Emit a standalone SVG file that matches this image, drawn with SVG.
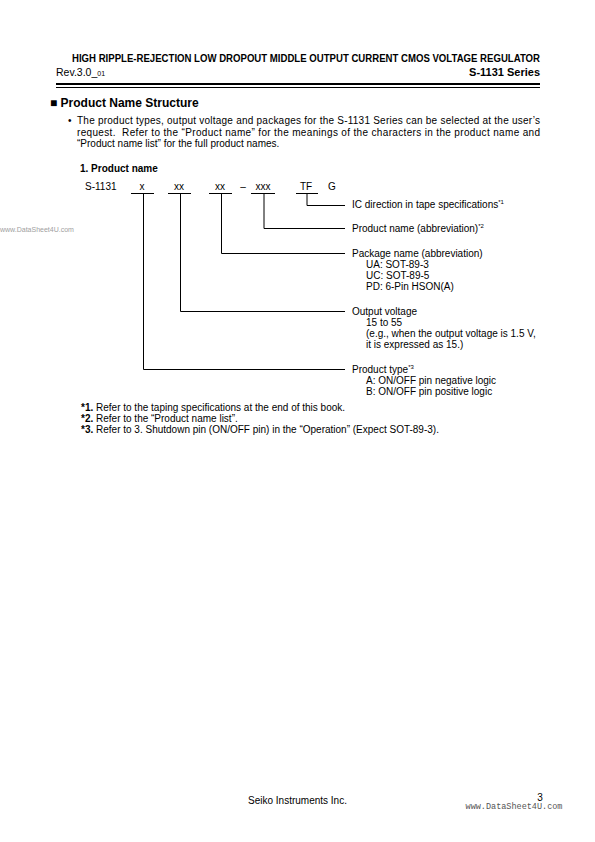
<svg xmlns="http://www.w3.org/2000/svg" width="595" height="842" viewBox="0 0 595 842">
<style>
text{font-family:"Liberation Sans",Arial,"DejaVu Sans",sans-serif;fill:#000}
.b{font-size:10px}
.bd{font-weight:bold}
.ln{stroke:#000;stroke-width:1;fill:none}
.wm{fill:#a0a0a0;font-size:7px}
.sup{font-size:6px}
</style>
<rect width="595" height="842" fill="#fff"/>
<g id="header">
<text x="72" y="62" font-size="10.5" font-weight="bold" textLength="468" lengthAdjust="spacingAndGlyphs">HIGH RIPPLE-REJECTION LOW DROPOUT MIDDLE OUTPUT CURRENT CMOS VOLTAGE REGULATOR</text>
<text x="56" y="76" font-size="10.5">Rev.3.0_<tspan font-size="7">01</tspan></text>
<text x="540" y="76" font-size="11" font-weight="bold" text-anchor="end">S-1131 Series</text>
<rect x="56" y="83" width="484" height="2" fill="#000"/>
<rect x="56" y="87" width="484" height="1" fill="#000"/>
</g>
<g id="title">
<text x="50" y="107" font-size="12" font-weight="bold">■&#160;Product Name Structure</text>
</g>
<g id="intro">
<text x="68" y="124" class="b">•</text>
<text x="77" y="124" class="b" textLength="463" lengthAdjust="spacing">The product types, output voltage and packages for the S-1131 Series can be selected at the user’s</text>
<text x="77" y="135.5" class="b" textLength="463" lengthAdjust="spacing">request.&#160; Refer to the “Product name” for the meanings of the characters in the product name and</text>
<text x="77" y="147" class="b">“Product name list” for the full product names.</text>
</g>
<text x="80" y="172" class="b bd">1. Product name</text>
<text class="wm" x="0" y="232">www.DataSheet4U.com</text>
<g id="code">
<text x="85" y="190" class="b">S-1131</text>
<text x="142" y="190" class="b" text-anchor="middle">x</text>
<text x="179" y="190" class="b" text-anchor="middle">xx</text>
<text x="220" y="190" class="b" text-anchor="middle">xx</text>
<text x="243" y="190" class="b" text-anchor="middle">–</text>
<text x="263" y="190" class="b" text-anchor="middle">xxx</text>
<text x="306" y="190" class="b" text-anchor="middle">TF</text>
<text x="332" y="190" class="b" text-anchor="middle">G</text>
</g>
<g id="connectors" class="ln">
<path d="M131 193.5H154M168 193.5H191M209 193.5H232M251 193.5H275M296 193.5H318"/>
<path d="M307 193.5V205.5H345"/>
<path d="M264 193.5V228.5H345"/>
<path d="M221.5 193.5V253.5H345"/>
<path d="M180.5 193.5V311.5H345"/>
<path d="M143.5 193.5V369.5H345"/>
</g>
<g id="n1"><text x="352" y="208" class="b">IC direction in tape specifications<tspan class="sup" dy="-4">*1</tspan></text></g>
<g id="n2"><text x="352" y="232" class="b">Product name (abbreviation)<tspan class="sup" dy="-4">*2</tspan></text></g>
<g id="n3">
<text x="352" y="257" class="b">Package name (abbreviation)</text>
<text x="366" y="268" class="b">UA: SOT-89-3</text>
<text x="366" y="279" class="b">UC: SOT-89-5</text>
<text x="366" y="290" class="b">PD: 6-Pin HSON(A)</text>
</g>
<g id="n4">
<text x="352" y="315" class="b">Output voltage</text>
<text x="366" y="326" class="b">15 to 55</text>
<text x="366" y="337" class="b">(e.g., when the output voltage is 1.5 V,</text>
<text x="366" y="348" class="b">it is expressed as 15.)</text>
</g>
<g id="n5">
<text x="352" y="373" class="b">Product type<tspan class="sup" dy="-4">*3</tspan></text>
<text x="366" y="384" class="b">A: ON/OFF pin negative logic</text>
<text x="366" y="395" class="b">B: ON/OFF pin positive logic</text>
</g>
<g id="notes">
<text x="81" y="411" class="b"><tspan class="bd">*1.</tspan> Refer to the taping specifications at the end of this book.</text>
<text x="81" y="422" class="b"><tspan class="bd">*2.</tspan> Refer to the “Product name list”.</text>
<text x="81" y="433" class="b"><tspan class="bd">*3.</tspan> Refer to 3. Shutdown pin (ON/OFF pin) in the “Operation” (Expect SOT-89-3).</text>
</g>
<g id="footer">
<text x="248" y="804" class="b">Seiko Instruments Inc.</text>
<text x="540" y="801" class="b" text-anchor="middle">3</text>
<text x="514" y="809" font-size="8.5" text-anchor="middle" style="font-family:'Liberation Mono',monospace;fill:#555">www.DataSheet4U.com</text>
</g>
</svg>
